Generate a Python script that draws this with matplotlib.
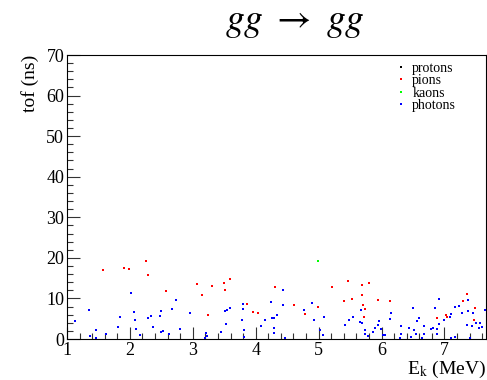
import matplotlib
matplotlib.use("Agg")
import matplotlib.pyplot as plt
from matplotlib.ticker import MultipleLocator

plt.rcParams['font.family'] = ['Liberation Serif', 'DejaVu Serif']
plt.rcParams['mathtext.fontset'] = 'stix'

# pions (red)
pion_e = [1.576, 1.905, 1.979, 2.254, 2.286, 2.576, 3.059, 3.148, 3.243, 3.306,
          3.497, 3.587, 3.513, 3.868, 3.957, 4.037, 4.306, 4.614, 4.783, 4.995,
          5.217, 5.397, 5.471, 5.535, 5.687, 5.798, 5.687, 5.703, 5.741, 5.725,
          5.948, 6.132, 6.878, 7.027, 7.043, 7.297, 7.354, 7.492, 7.476]
pion_tof = [16.93, 17.50, 17.25, 19.22, 15.85, 11.83, 13.56, 10.85, 5.84, 13.07,
            13.88, 14.79, 12.15, 8.55, 6.65, 6.49, 12.75, 8.38, 6.09, 7.81,
            12.89, 9.29, 14.22, 9.86, 13.31, 13.72, 10.85, 8.38, 7.39, 5.35,
            9.61, 9.29, 5.10, 5.84, 5.50, 9.29, 11.02, 7.57, 4.69]

# kaons (green)
kaon_e = [4.984]
kaon_tof = [19.15]

# protons (black) - none in range
proton_e = []
proton_tof = []

# photons (blue)
photon_e = [1.122, 1.344, 1.370, 1.465, 1.456, 1.614, 1.810, 1.846, 2.016, 2.068,
            2.079, 2.090, 2.154, 2.286, 2.333, 2.370, 2.492, 2.481, 2.519, 2.492,
            2.614, 2.667, 2.725, 2.798, 2.963, 3.195, 3.206, 3.233, 3.449, 3.535,
            3.513, 3.540, 3.598, 3.794, 3.794, 3.778, 3.821, 3.810, 4.084, 4.148,
            4.243, 4.259, 4.297, 4.333, 4.286, 4.297, 4.433, 4.433, 4.465, 4.762,
            4.894, 4.921, 5.016, 5.075, 5.090, 5.417, 5.476, 5.544, 5.651, 5.683,
            5.678, 5.741, 5.741, 5.778, 5.862, 5.900, 5.941, 5.952, 5.984, 6.027,
            6.059, 6.132, 6.154, 6.302, 6.313, 6.297, 6.433, 6.465, 6.508, 6.497,
            6.556, 6.571, 6.598, 6.551, 6.646, 6.671, 6.671, 6.789, 6.810, 6.857,
            6.878, 6.884, 6.905, 6.916, 6.989, 7.090, 7.111, 7.170, 7.175, 7.238,
            7.286, 7.370, 7.376, 7.365, 7.408, 7.456, 7.444, 7.508, 7.560, 7.551,
            7.603, 7.646, 7.111]
photon_tof = [4.44, 7.22, 0.74, 2.29, 0.25, 1.16, 2.89, 5.35, 11.41, 6.65,
              4.76, 2.47, 0.91, 5.10, 5.66, 3.03, 6.83, 5.66, 1.90, 1.66,
              1.31, 7.39, 9.68, 2.47, 6.49, 0.25, 1.48, 0.74, 1.73, 3.62,
              6.83, 7.07, 7.57, 8.55, 7.39, 4.76, 2.15, 0.57, 3.21, 4.76,
              9.12, 5.10, 5.25, 5.84, 2.64, 1.48, 12.15, 8.31, 0.17, 7.22,
              8.80, 4.69, 2.29, 0.91, 5.35, 3.37, 4.69, 5.50, 4.19, 3.87,
              7.22, 2.22, 1.23, 0.67, 1.73, 2.64, 3.37, 4.51, 2.40, 0.99,
              0.99, 4.92, 6.49, 1.23, 3.21, 0.32, 2.79, 0.57, 2.15, 7.57,
              4.51, 4.36, 5.10, 1.16, 0.32, 3.21, 1.23, 2.40, 2.64, 7.57,
              2.40, 1.23, 9.86, 3.77, 4.69, 5.50, 6.24, 7.96, 0.49, 8.13,
              6.49, 9.61, 6.83, 3.37, 0.17, 6.49, 3.21, 3.95, 3.95, 2.64,
              2.96, 7.22, 0.30]

fig = plt.figure(figsize=(4.87, 3.80), dpi=100)
ax = fig.add_axes([67/487, 1-339/380, 419/487, 284/380])

ms = 2.15
ax.plot(proton_e, proton_tof, 's', color='black', ms=ms, mew=0, label='protons')
ax.plot(pion_e, pion_tof, 's', color='#ff0000', ms=ms, mew=0, label='pions')
ax.plot(kaon_e, kaon_tof, 's', color='#00ff00', ms=ms, mew=0, label='kaons')
ax.plot(photon_e, photon_tof, 's', color='#0000ff', ms=ms, mew=0, label='photons')

ax.set_xlim(1, 7.66)
ax.set_ylim(0, 70)
ax.xaxis.set_major_locator(MultipleLocator(1))
ax.xaxis.set_minor_locator(MultipleLocator(0.2))
ax.yaxis.set_major_locator(MultipleLocator(10))
ax.yaxis.set_minor_locator(MultipleLocator(2))
ax.tick_params(which='both', direction='in', labelsize=13, color='#333333')
ax.tick_params(which='major', length=9, width=0.8)
ax.tick_params(which='minor', length=4.5, width=0.8)
ax.tick_params(axis='x', pad=2)
ax.tick_params(axis='y', pad=2)
for s in ax.spines.values():
    s.set_linewidth(0.8)

ax.set_ylabel('tof (ns)', fontsize=14, loc='top', labelpad=5)
ax.set_xlabel(r'E$_{\rm k}$ (MeV)', fontsize=14, loc='right', labelpad=0)

fig.text(0.605, 0.94, r'$gg\ \rightarrow\ gg$', fontsize=27, ha='center', va='center')

leg = ax.legend(loc='upper right', bbox_to_anchor=(0.942, 0.995), frameon=False,
                fontsize=10, handlelength=0.6, handletextpad=0.5,
                labelspacing=-0.05, markerscale=0.75, borderaxespad=0)

fig.savefig('out.png', dpi=100)
